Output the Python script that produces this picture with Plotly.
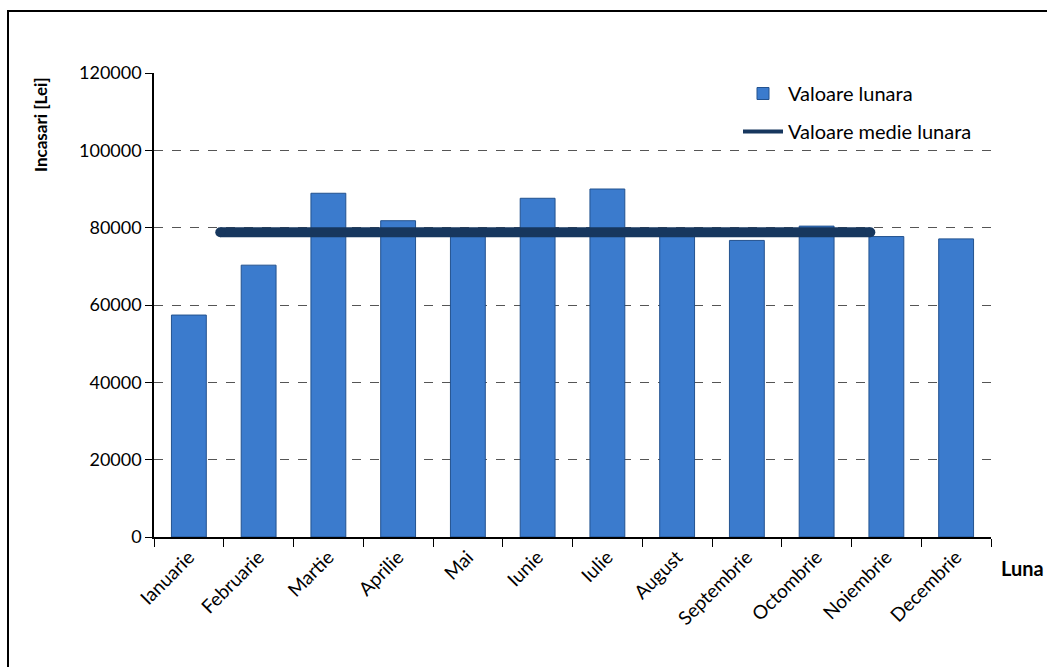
import plotly.graph_objects as go

months = ["Ianuarie", "Februarie", "Martie", "Aprilie", "Mai", "Iunie",
          "Iulie", "August", "Septembrie", "Octombrie", "Noiembrie", "Decembrie"]
monthly_values = [57400, 70300, 88900, 81800, 78000, 87600,
                  90000, 78000, 76700, 80400, 77700, 77100]
mean_value = 78800
mean_line_x = [0.45, 9.77]
y_ticks = [0, 20000, 40000, 60000, 80000, 100000, 120000]

FONT = "Lato, 'Open Sans', sans-serif"
L, R, T, B = 154, 56, 73, 130
W, H = 1047, 667
pw, ph = W - L - R, H - T - B

def px(x):
    return (x - L) / pw

def py(y):
    return (H - B - y) / ph

NAVY = "#17375e"

fig = go.Figure()
fig.add_trace(go.Bar(
    x=months, y=monthly_values, name="Valoare lunara",
    width=0.5,
    marker=dict(color="#3b7bcd", line=dict(color="#23528f", width=1)),
    legendgroup="a",
))
fig.add_trace(go.Scatter(
    x=mean_line_x, y=[mean_value, mean_value], xaxis="x2",
    mode="lines+markers", showlegend=False,
    line=dict(color=NAVY, width=10),
    marker=dict(color=NAVY, size=10, line=dict(width=0)),
    legendgroup="b",
))
# legend entry (thinner line sample as in the reference legend)
fig.add_trace(go.Scatter(
    x=[None], y=[None], xaxis="x2",
    mode="lines", name="Valoare medie lunara",
    line=dict(color=NAVY, width=4),
    legendgroup="b",
))

fig.update_layout(
    width=W, height=H,
    margin=dict(l=L, r=R, t=T, b=B, autoexpand=False),
    paper_bgcolor="white", plot_bgcolor="white",
    font=dict(family=FONT, size=18, color="#000000"),
    showlegend=True,
    legend=dict(x=px(738), y=py(74), xanchor="left", yanchor="top",
                font=dict(size=20), tracegroupgap=9,
                bgcolor="rgba(0,0,0,0)", itemwidth=40),
    bargap=0.5,
    xaxis=dict(
        type="category", range=[-0.5, 11.5], automargin=False,
        tickson="boundaries", ticks="outside", ticklen=8, tickcolor="#000",
        showline=True, linecolor="#000", linewidth=1.5,
        showgrid=False, tickangle=-45, tickfont=dict(size=19),
    ),
    xaxis2=dict(
        overlaying="x", range=[-0.5, 11.5], visible=False,
    ),
    yaxis=dict(
        range=[0, 120000], tickvals=y_ticks, ticktext=[str(v) for v in y_ticks],
        automargin=False,
        ticks="outside", ticklen=7, tickcolor="#000",
        showline=True, linecolor="#000", linewidth=1.5,
        showgrid=True, gridcolor="#555555", griddash="dash", gridwidth=1,
        zeroline=False, tickfont=dict(size=18),
    ),
    annotations=[
        dict(text="<b>Incasari [Lei]</b>", x=px(40), y=py(124), xref="paper", yref="paper",
             xanchor="center", yanchor="middle",
             showarrow=False, textangle=-90, font=dict(size=17)),
        dict(text="<b>Luna</b>", x=px(1022), y=py(568), xref="paper", yref="paper",
             xanchor="center", yanchor="middle",
             showarrow=False, font=dict(size=20)),
    ],
    shapes=[
        dict(type="rect", xref="paper", yref="paper",
             x0=px(8), x1=px(1070), y0=py(11), y1=py(690),
             line=dict(color="#000", width=2), fillcolor="rgba(0,0,0,0)", layer="below"),
    ],
)
# hide the top gridline at 120000
fig.add_shape(type="line", xref="paper", yref="y", x0=0, x1=1, y0=120000, y1=120000,
              line=dict(color="white", width=2))

fig.write_html("out.html", config={"displayModeBar": False},
               post_script="document.body.style.margin='0';")
